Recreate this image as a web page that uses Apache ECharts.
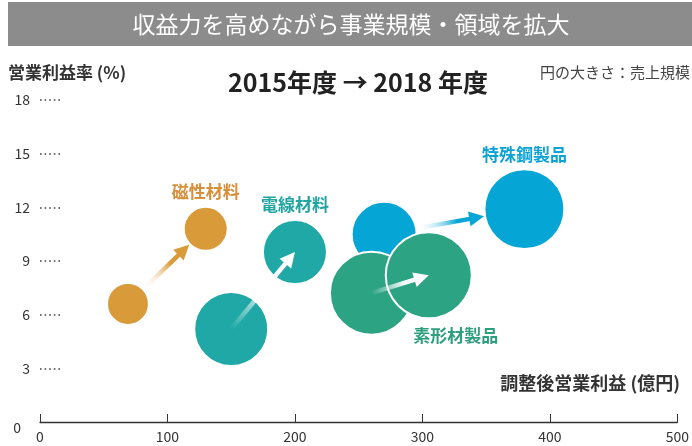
<!DOCTYPE html>
<html>
<head>
<meta charset="utf-8">
<script src="https://cdn.jsdelivr.net/npm/echarts@6/dist/echarts.min.js"></script>
<style>
  html, body { margin: 0; padding: 0; background: #fff; }
  #chart { width: 692px; height: 446px; }
</style>
</head>
<body>
<div id="chart"></div>
<script>
// 事業セグメント
const categories = ['磁性材料', '電線材料', '特殊鋼製品', '素形材製品'];
// 2015年度：調整後営業利益(億円)・営業利益率(%)・売上規模
const profit2015 = [69, 150, 270, 260];
const margin2015 = [6.6, 5.2, 10.5, 7.2];
const sales2015 = [780, 2430, 1880, 3060];
// 2018年度
const profit2018 = [130, 200, 380, 305];
const margin2018 = [10.8, 9.5, 11.9, 8.2];
const sales2018 = [860, 1820, 2840, 3290];
// 軸目盛
const xTicks = [0, 100, 200, 300, 400, 500];
const yTicks = [0, 3, 6, 9, 12, 15, 18];

const colors = ['#d99a3a', '#1fa8a6', '#05a6d6', '#2ca383'];
const labelColors = ['#d68f3a', '#22a5a2', '#0ba2d5', '#2e9f7e'];
// 白抜き矢印（円の中心から中心へ）にするか
const whiteArrow = [false, true, false, true];
// ラベル位置（2018年度の円に付ける）
const labelLayout = [
  { position: 'top', distance: 6, offset: [0, 0] },
  { position: 'top', distance: 6, offset: [0, 0] },
  { position: 'top', distance: 5, offset: [0, 0] },
  { position: 'bottom', distance: 8, offset: [27, 0] }
];
const FONT = '"Noto Sans CJK JP", "Noto Sans", sans-serif';
const K = 1.5; // 円の直径 = K * sqrt(売上)

function sizeOf(v) { return Math.sqrt(v[2]) * K; }

const scatterSeries = categories.map((name, i) => ({
  name: name,
  type: 'scatter',
  z: 2,
  symbolSize: sizeOf,
  itemStyle: { color: colors[i], borderColor: '#fff', borderWidth: 2, opacity: 1 },
  emphasis: { disabled: true },
  data: [
    { value: [profit2015[i], margin2015[i], sales2015[i]] },
    {
      value: [profit2018[i], margin2018[i], sales2018[i]],
      label: {
        show: true,
        formatter: name,
        position: labelLayout[i].position,
        distance: labelLayout[i].distance,
        offset: labelLayout[i].offset,
        color: labelColors[i],
        fontFamily: FONT,
        fontSize: 17,
        fontWeight: 'bold'
      }
    }
  ]
}));

// 2015 → 2018 の矢印
const arrowData = categories.map((name, i) => [
  profit2015[i], margin2015[i], profit2018[i], margin2018[i], sales2015[i], sales2018[i], i
]);

function renderArrow(params, api) {
  const p0 = api.coord([api.value(0), api.value(1)]);
  const p1 = api.coord([api.value(2), api.value(3)]);
  const r0 = Math.sqrt(api.value(4)) * K / 2;
  const r1 = Math.sqrt(api.value(5)) * K / 2;
  const idx = api.value(6);
  const dx = p1[0] - p0[0], dy = p1[1] - p0[1];
  const len = Math.sqrt(dx * dx + dy * dy);
  const ux = dx / len, uy = dy / len;
  const nx = -uy, ny = ux;
  let s, e, c, ct;
  if (whiteArrow[idx]) {
    s = [p0[0], p0[1]];
    e = [p1[0], p1[1]];
    c = '#ffffff';
    ct = 'rgba(255,255,255,0)';
  } else {
    s = [p0[0] + ux * r0, p0[1] + uy * r0];
    e = [p1[0] - ux * (r1 + 1), p1[1] - uy * (r1 + 1)];
    c = colors[idx];
    ct = 'rgba(255,255,255,0)';
  }
  const headL = 15, headW = 15;
  const b = [e[0] - ux * headL, e[1] - uy * headL];
  const grad = new echarts.graphic.LinearGradient(s[0], s[1], e[0], e[1], [
    { offset: 0, color: ct },
    { offset: 0.6, color: c },
    { offset: 1, color: c }
  ], true);
  return {
    type: 'group',
    children: [
      {
        type: 'line',
        shape: { x1: s[0], y1: s[1], x2: b[0] + ux * 2, y2: b[1] + uy * 2 },
        style: { stroke: grad, lineWidth: 4.5, fill: null }
      },
      {
        type: 'polygon',
        shape: {
          points: [
            e,
            [b[0] + nx * headW / 2, b[1] + ny * headW / 2],
            [b[0] - nx * headW / 2, b[1] - ny * headW / 2]
          ]
        },
        style: { fill: c }
      }
    ]
  };
}

const chart = echarts.init(document.getElementById('chart'));
chart.setOption({
  animation: false,
  textStyle: { fontFamily: FONT },
  grid: { left: 40, right: 12, top: 100, bottom: 24 },
  xAxis: {
    type: 'value',
    min: xTicks[0],
    max: xTicks[xTicks.length - 1],
    interval: xTicks[1] - xTicks[0],
    axisLine: { show: true, lineStyle: { color: '#333', width: 1.3 } },
    axisTick: { show: true, inside: true, length: 8, lineStyle: { color: '#333', width: 1 } },
    axisLabel: { color: '#333', fontSize: 14, margin: 8, fontFamily: FONT },
    splitLine: { show: false }
  },
  yAxis: {
    type: 'value',
    min: yTicks[0],
    max: yTicks[yTicks.length - 1],
    interval: yTicks[1] - yTicks[0],
    axisLine: { show: false },
    axisTick: {
      show: true, inside: true, length: 21,
      customValues: yTicks.slice(1),
      lineStyle: { color: '#444', width: 1.6, type: [1.6, 3] }
    },
    axisLabel: {
      color: '#333', fontSize: 14, margin: 10, fontFamily: FONT,
      formatter: function (v) { return v === 0 ? '{z|0}' : String(v); },
      rich: { z: { fontSize: 14, color: '#333', fontFamily: FONT, padding: [12, 9, 0, 0] } }
    },
    splitLine: { show: false }
  },
  graphic: [
    { type: 'rect', shape: { x: 8, y: 2, width: 684, height: 44 }, style: { fill: '#8c8c8c' } },
    {
      type: 'text', x: 351, y: 24,
      style: { text: '収益力を高めながら事業規模・領域を拡大', fill: '#fff', font: '23px ' + FONT, textAlign: 'center', textVerticalAlign: 'middle' }
    },
    {
      type: 'text', x: 8, y: 73,
      style: { text: '営業利益率 (%)', fill: '#333', font: 'bold 17px ' + FONT, textAlign: 'left', textVerticalAlign: 'middle' }
    },
    {
      type: 'text', x: 358, y: 82,
      style: { text: '2015年度 → 2018 年度', fill: '#222', font: 'bold 25px ' + FONT, textAlign: 'center', textVerticalAlign: 'middle' }
    },
    {
      type: 'text', x: 690, y: 72,
      style: { text: '円の大きさ：売上規模', fill: '#444', font: '15px ' + FONT, textAlign: 'right', textVerticalAlign: 'middle' }
    },
    {
      type: 'text', x: 680, y: 383,
      style: { text: '調整後営業利益 (億円)', fill: '#333', font: 'bold 18px ' + FONT, textAlign: 'right', textVerticalAlign: 'middle' }
    }
  ],
  series: scatterSeries.concat([{
    type: 'custom',
    z: 3,
    silent: true,
    renderItem: renderArrow,
    encode: { x: [0, 2], y: [1, 3] },
    data: arrowData
  }])
});
</script>
</body>
</html>
